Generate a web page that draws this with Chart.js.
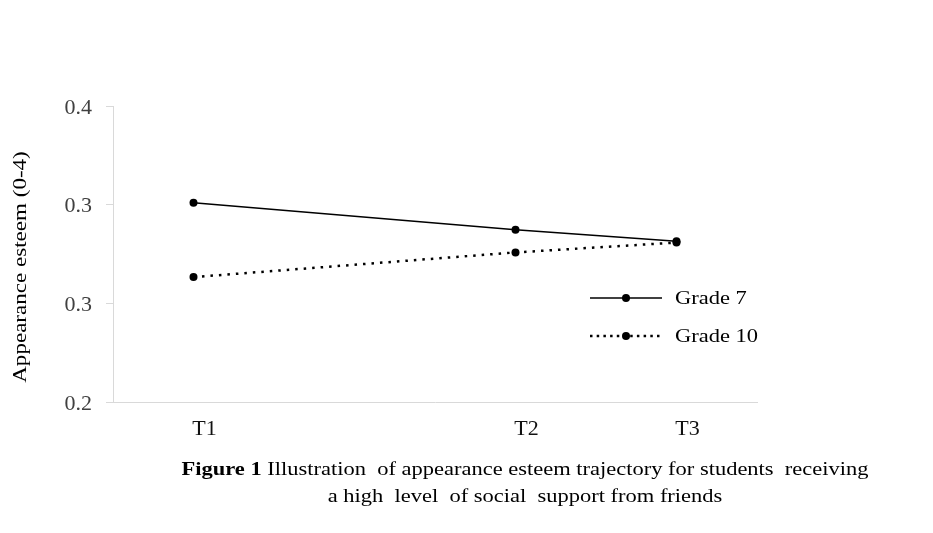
<!DOCTYPE html>
<html>
<head>
<meta charset="utf-8">
<script src="https://cdn.jsdelivr.net/npm/chart.js@4"></script>
<style>
  html, body { margin: 0; padding: 0; background: #fff; }
  #wrap { width: 933px; height: 533px; }
</style>
</head>
<body>
<div id="wrap"><canvas id="chart" width="933" height="533"></canvas></div>
<script>
// time points (T2 sits closer to T3 in the original)
const timeLabels = ['T1', 'T2', 'T3']
const timePositions = [1, 3, 4]

const grade7 = [0.301, 0.2873, 0.2815]
const grade10 = [0.2633, 0.2758, 0.2808]

// y ticks as printed in the figure (one decimal, so two read 0.3)
const yTickValues = [0.2, 0.25, 0.3, 0.35]
const yTickLabels = ['0.2', '0.3', '0.3', '0.4']

const yTitle = 'Appearance esteem (0-4)'
const captionBold = 'Figure 1'
const captionLine1 = ' Illustration  of appearance esteem trajectory for students  receiving'
const captionLine2 = 'a high  level  of social  support from friends'

const serif = '"Liberation Serif", "DejaVu Serif", serif'

const toPoints = (vals) => vals.map((v, i) => ({ x: timePositions[i], y: v }))

// the original text is a bit wide, so stretch it horizontally
function stretchedText(ctx, text, x, y, sx) {
  ctx.save()
  ctx.translate(x, y)
  ctx.scale(sx, 1)
  ctx.fillText(text, 0, 0)
  ctx.restore()
}

// legend drawn inside the plot, bottom right
const insideLegend = {
  id: 'insideLegend',
  afterDraw(chart) {
    const ctx = chart.ctx
    const rows = [298, 336]
    chart.data.datasets.forEach((ds, i) => {
      const y = rows[i]
      ctx.save()
      ctx.strokeStyle = ds.borderColor
      ctx.lineWidth = ds.borderWidth
      ctx.setLineDash(i === 1 ? [2.5, 4.2] : [])
      ctx.beginPath()
      ctx.moveTo(590, y)
      ctx.lineTo(662, y)
      ctx.stroke()
      ctx.setLineDash([])
      ctx.fillStyle = ds.pointBackgroundColor
      ctx.beginPath()
      ctx.arc(626, y, ds.pointRadius, 0, Math.PI * 2)
      ctx.fill()
      ctx.fillStyle = '#000'
      ctx.font = '18px ' + serif
      ctx.textBaseline = 'middle'
      stretchedText(ctx, ds.label, 675, y + 1, 1.25)
      ctx.restore()
    })
  }
}

const titleAndCaption = {
  id: 'titleAndCaption',
  afterDraw(chart) {
    const ctx = chart.ctx
    ctx.save()
    ctx.fillStyle = '#000'

    // y axis title, rotated
    ctx.font = '18px ' + serif
    ctx.textAlign = 'center'
    ctx.textBaseline = 'middle'
    ctx.save()
    ctx.translate(21, 267)
    ctx.rotate(-Math.PI / 2)
    ctx.scale(1.28, 1)
    ctx.fillText(yTitle, 0, 0)
    ctx.restore()

    // caption under the chart
    ctx.textAlign = 'left'
    ctx.textBaseline = 'alphabetic'
    ctx.font = 'bold 18px ' + serif
    const wb = ctx.measureText(captionBold).width
    ctx.font = '18px ' + serif
    const w1 = ctx.measureText(captionLine1).width
    const w2 = ctx.measureText(captionLine2).width
    const sx = 687 / (wb + w1)
    const x1 = 525 - (wb + w1) * sx / 2
    ctx.font = 'bold 18px ' + serif
    stretchedText(ctx, captionBold, x1, 475, sx)
    ctx.font = '18px ' + serif
    stretchedText(ctx, captionLine1, x1 + wb * sx, 475, sx)
    stretchedText(ctx, captionLine2, 525 - w2 * sx / 2, 502, sx)
    ctx.restore()
  }
}

new Chart(document.getElementById('chart'), {
  type: 'line',
  data: {
    datasets: [
      {
        label: 'Grade 7',
        data: toPoints(grade7),
        borderColor: '#000',
        borderWidth: 1.5,
        pointRadius: 4,
        pointBackgroundColor: '#000',
        pointBorderWidth: 0,
        tension: 0
      },
      {
        label: 'Grade 10',
        data: toPoints(grade10),
        borderColor: '#000',
        borderWidth: 2.5,
        borderDash: [2.5, 6],
        pointRadius: 4,
        pointBackgroundColor: '#000',
        pointBorderWidth: 0,
        tension: 0
      }
    ]
  },
  options: {
    responsive: false,
    animation: false,
    layout: { padding: { left: 0, top: 106, right: 176, bottom: 71 } },
    plugins: {
      legend: { display: false },
      tooltip: { enabled: false }
    },
    scales: {
      x: {
        type: 'linear',
        min: 0.5,
        max: 4.5,
        afterBuildTicks: (scale) => {
          scale.ticks = timePositions.map(v => ({ value: v }))
        },
        afterFit: (scale) => { scale.height = 60 },
        ticks: {
          callback: (v) => timeLabels[timePositions.indexOf(v)],
          color: '#111',
          font: { family: serif, size: 22 },
          padding: 6,
          labelOffset: 11,
          maxRotation: 0,
          autoSkip: false
        },
        grid: { display: false },
        border: { display: true, color: '#d9d9d9', width: 1 }
      },
      y: {
        min: 0.2,
        max: 0.35,
        afterBuildTicks: (scale) => {
          scale.ticks = yTickValues.map(v => ({ value: v }))
        },
        afterFit: (scale) => { scale.width = 113 },
        ticks: {
          callback: (v) => yTickLabels[yTickValues.indexOf(v)],
          color: '#404040',
          font: { family: serif, size: 22 },
          padding: 14,
          labelOffset: 2
        },
        grid: {
          drawOnChartArea: false,
          tickLength: 7,
          color: '#d9d9d9'
        },
        border: { display: true, color: '#d9d9d9', width: 1 }
      }
    }
  },
  plugins: [insideLegend, titleAndCaption]
})
</script>
</body>
</html>
